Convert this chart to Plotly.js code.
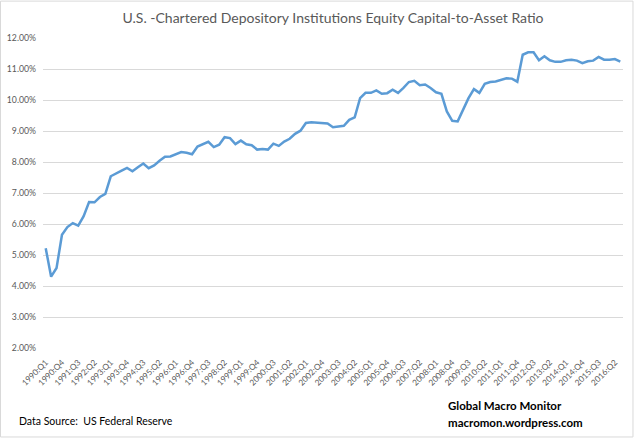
<!DOCTYPE html>
<html>
<head>
<meta charset="utf-8">
<script src="https://cdn.plot.ly/plotly-3.0.1.min.js"></script>
<style>
html,body{margin:0;padding:0;background:#fff;}
#chart{width:640px;height:442px;}
</style>
</head>
<body>
<div id="chart"></div>
<script>
// Equity capital-to-asset ratio (%), quarterly, 1990:Q1 .. 2016:Q3
var ratio1990s = [5.22, 4.30, 4.58, 5.65, 5.90, 6.03, 5.95, 6.25, 6.71, 6.70,
                  6.87, 6.97, 7.54, 7.62, 7.72, 7.81, 7.70, 7.83, 7.95, 7.80,
                  7.89, 8.04, 8.17, 8.18, 8.26, 8.32, 8.30, 8.25, 8.50, 8.58,
                  8.65, 8.48, 8.56, 8.80, 8.77, 8.58, 8.69, 8.57, 8.54, 8.40];
var ratio2000s = [8.42, 8.40, 8.59, 8.52, 8.66, 8.75, 8.91, 9.01, 9.26, 9.28,
                  9.26, 9.24, 9.24, 9.12, 9.15, 9.17, 9.36, 9.44, 10.06, 10.23,
                  10.23, 10.31, 10.20, 10.22, 10.33, 10.23, 10.39, 10.58, 10.62, 10.48,
                  10.50, 10.39, 10.25, 10.20, 9.63, 9.33, 9.31, 9.69, 10.06, 10.35];
var ratio2010s = [10.23, 10.52, 10.58, 10.60, 10.65, 10.70, 10.69, 10.59, 11.46, 11.54,
                  11.54, 11.28, 11.41, 11.28, 11.23, 11.23, 11.28, 11.30, 11.27, 11.19,
                  11.25, 11.27, 11.39, 11.30, 11.30, 11.32, 11.24];

var tickLabels = ["1990:Q1","1990:Q4","1991:Q3","1992:Q2","1993:Q1","1993:Q4","1994:Q3","1995:Q2",
                  "1996:Q1","1996:Q4","1997:Q3","1998:Q2","1999:Q1","1999:Q4","2000:Q3","2001:Q2",
                  "2002:Q1","2002:Q4","2003:Q3","2004:Q2","2005:Q1","2005:Q4","2006:Q3","2007:Q2",
                  "2008:Q1","2008:Q4","2009:Q3","2010:Q2","2011:Q1","2011:Q4","2012:Q3","2013:Q2",
                  "2014:Q1","2014:Q4","2015:Q3","2016:Q2"];
var yTicks = [2, 3, 4, 5, 6, 7, 8, 9, 10, 11, 12];
var yTickText = yTicks.map(function (v) { return v.toFixed(2) + '%'; });

var startYear = 1990;
var values = ratio1990s.concat(ratio2000s, ratio2010s);
var quarters = [];
for (var i = 0; i < values.length; i++) {
  quarters.push((startYear + Math.floor(i / 4)) + ":Q" + (i % 4 + 1));
}

var FONT = 'Lato, "Open Sans", sans-serif';

var trace = {
  type: 'scatter', mode: 'lines',
  x: quarters, y: values,
  line: {color: '#5b9bd5', width: 2.5},
  hoverinfo: 'x+y'
};

var layout = {
  width: 640, height: 442,
  margin: {l: 43, r: 17, t: 38, b: 94},
  paper_bgcolor: '#ffffff', plot_bgcolor: '#ffffff',
  showlegend: false,
  font: {family: FONT, color: '#595959'},
  title: {
    text: 'U.S. -Chartered Depository Institutions Equity Capital-to-Asset Ratio',
    font: {family: FONT, size: 14, color: '#595959'},
    x: 0.5, xref: 'paper', xanchor: 'center',
    y: 0.96, yref: 'container', yanchor: 'middle'
  },
  xaxis: {
    type: 'category',
    range: [-0.5, values.length - 0.5],
    tickmode: 'array', tickvals: tickLabels, ticktext: tickLabels,
    tickangle: -45,
    tickfont: {family: FONT, size: 8.3, color: '#595959'},
    showgrid: false, zeroline: false, showline: false,
    ticks: '', ticklabelstandoff: 7, fixedrange: true
  },
  yaxis: {
    range: [2, 12],
    tickmode: 'array', tickvals: yTicks, ticktext: yTickText,
    tickfont: {family: FONT, size: 8.7, color: '#595959'},
    showgrid: true, gridcolor: '#d9d9d9', gridwidth: 1,
    zeroline: false, showline: false, ticks: '',
    ticklabelstandoff: 6,
    fixedrange: true
  },
  shapes: [{
    type: 'rect', xref: 'paper', yref: 'paper',
    x0: -0.0733, x1: 1.0172, y0: -0.287, y1: 1.119,
    line: {color: '#d9d9d9', width: 1}, fillcolor: 'rgba(0,0,0,0)', layer: 'below'
  }],
  annotations: [
    {text: 'Data Source:  US Federal Reserve', xref: 'paper', yref: 'paper',
     x: -0.045, y: -0.235, xanchor: 'left', yanchor: 'middle', showarrow: false,
     font: {family: FONT, size: 10.5, color: '#000000'}},
    {text: '<b>Global Macro Monitor</b>', xref: 'paper', yref: 'paper',
     x: 0.694, y: -0.187, xanchor: 'left', yanchor: 'middle', showarrow: false,
     font: {family: FONT, size: 11.5, color: '#000000'}},
    {text: '<b>macromon.wordpress.com</b>', xref: 'paper', yref: 'paper',
     x: 0.694, y: -0.239, xanchor: 'left', yanchor: 'middle', showarrow: false,
     font: {family: FONT, size: 11.5, color: '#000000'}}
  ]
};

Plotly.newPlot('chart', [trace], layout, {displayModeBar: false, staticPlot: true});
</script>
</body>
</html>
